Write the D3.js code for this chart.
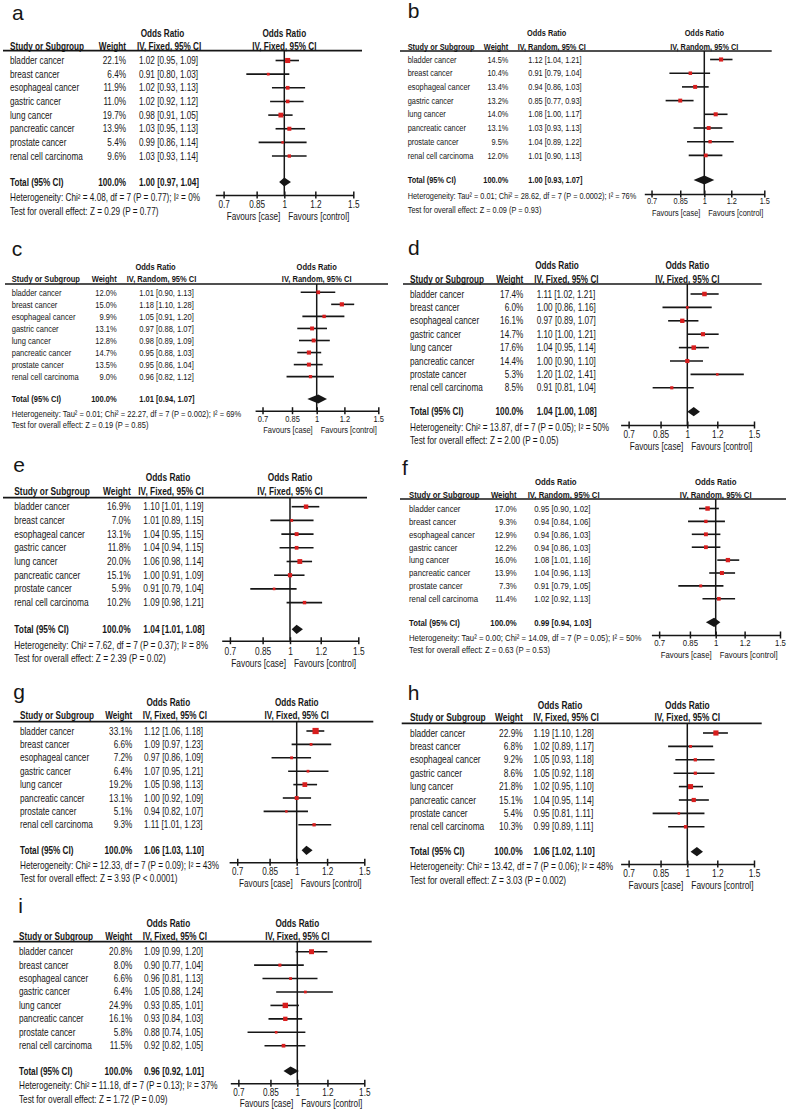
<!DOCTYPE html>
<html>
<head>
<meta charset="utf-8">
<script src="https://cdn.jsdelivr.net/npm/d3@7"></script>
<style>
  body { margin: 0; background: #fff; }
  svg { display: block; }
</style>
</head>
<body>
<script>
// no narrow font installed, so Liberation Sans is squeezed horizontally
const FONT = '"Liberation Sans", Arial, sans-serif';
const SQUEEZE = 0.82;

const subgroups = ['bladder cancer', 'breast cancer', 'esophageal cancer', 'gastric cancer',
  'lung cancer', 'pancreatic cancer', 'prostate cancer', 'renal cell carcinoma'];
const tickValues = [0.7, 0.85, 1, 1.2, 1.5];
const tickLabels = ['0.7', '0.85', '1', '1.2', '1.5'];

// rows: [weight %, odds ratio, lower, upper]
const dataA = [[22.1, 1.02, 0.95, 1.09], [6.4, 0.91, 0.80, 1.03], [11.9, 1.02, 0.93, 1.13], [11.0, 1.02, 0.92, 1.12],
  [19.7, 0.98, 0.91, 1.05], [13.9, 1.03, 0.95, 1.13], [5.4, 0.99, 0.86, 1.14], [9.6, 1.03, 0.93, 1.14]];
const dataB = [[14.5, 1.12, 1.04, 1.21], [10.4, 0.91, 0.79, 1.04], [13.4, 0.94, 0.86, 1.03], [13.2, 0.85, 0.77, 0.93],
  [14.0, 1.08, 1.00, 1.17], [13.1, 1.03, 0.93, 1.13], [9.5, 1.04, 0.89, 1.22], [12.0, 1.01, 0.90, 1.13]];
const dataC = [[12.0, 1.01, 0.90, 1.13], [15.0, 1.18, 1.10, 1.28], [9.9, 1.05, 0.91, 1.20], [13.1, 0.97, 0.88, 1.07],
  [12.8, 0.98, 0.89, 1.09], [14.7, 0.95, 0.88, 1.03], [13.5, 0.95, 0.86, 1.04], [9.0, 0.96, 0.82, 1.12]];
const dataD = [[17.4, 1.11, 1.02, 1.21], [6.0, 1.00, 0.86, 1.16], [16.1, 0.97, 0.89, 1.07], [14.7, 1.10, 1.00, 1.21],
  [17.6, 1.04, 0.95, 1.14], [14.4, 1.00, 0.90, 1.10], [5.3, 1.20, 1.02, 1.41], [8.5, 0.91, 0.81, 1.04]];
const dataE = [[16.9, 1.10, 1.01, 1.19], [7.0, 1.01, 0.89, 1.15], [13.1, 1.04, 0.95, 1.15], [11.8, 1.04, 0.94, 1.15],
  [20.0, 1.06, 0.98, 1.14], [15.1, 1.00, 0.91, 1.09], [5.9, 0.91, 0.79, 1.04], [10.2, 1.09, 0.98, 1.21]];
const dataF = [[17.0, 0.95, 0.90, 1.02], [9.3, 0.94, 0.84, 1.06], [12.9, 0.94, 0.86, 1.03], [12.2, 0.94, 0.86, 1.03],
  [16.0, 1.08, 1.01, 1.16], [13.9, 1.04, 0.96, 1.13], [7.3, 0.91, 0.79, 1.05], [11.4, 1.02, 0.92, 1.13]];
const dataG = [[33.1, 1.12, 1.06, 1.18], [6.6, 1.09, 0.97, 1.23], [7.2, 0.97, 0.86, 1.09], [6.4, 1.07, 0.95, 1.21],
  [19.2, 1.05, 0.98, 1.13], [13.1, 1.00, 0.92, 1.09], [5.1, 0.94, 0.82, 1.07], [9.3, 1.11, 1.01, 1.23]];
const dataH = [[22.9, 1.19, 1.10, 1.28], [6.8, 1.02, 0.89, 1.17], [9.2, 1.05, 0.93, 1.18], [8.6, 1.05, 0.92, 1.18],
  [21.8, 1.02, 0.95, 1.10], [15.1, 1.04, 0.95, 1.14], [5.4, 0.95, 0.81, 1.11], [10.3, 0.99, 0.89, 1.11]];
const dataI = [[20.8, 1.09, 0.99, 1.20], [8.0, 0.90, 0.77, 1.04], [6.6, 0.96, 0.81, 1.13], [6.4, 1.05, 0.88, 1.24],
  [24.9, 0.93, 0.85, 1.01], [16.1, 0.93, 0.84, 1.03], [5.8, 0.88, 0.74, 1.05], [11.5, 0.92, 0.82, 1.05]];

// pooled [OR, lower, upper] for panels a..i
const totals = [[1.00, 0.97, 1.04], [1.00, 0.93, 1.07], [1.01, 0.94, 1.07], [1.04, 1.00, 1.08], [1.04, 1.01, 1.08],
  [0.99, 0.94, 1.03], [1.06, 1.03, 1.10], [1.06, 1.02, 1.10], [0.96, 0.92, 1.01]];
const models = ['Fixed', 'Random', 'Random', 'Fixed', 'Fixed', 'Random', 'Fixed', 'Fixed', 'Fixed'];
const hetTexts = [
  'Heterogeneity: Chi² = 4.08, df = 7 (P = 0.77); I² = 0%',
  'Heterogeneity: Tau² = 0.01; Chi² = 28.62, df = 7 (P = 0.0002); I² = 76%',
  'Heterogeneity: Tau² = 0.01; Chi² = 22.27, df = 7 (P = 0.002); I² = 69%',
  'Heterogeneity: Chi² = 13.87, df = 7 (P = 0.05); I² = 50%',
  'Heterogeneity: Chi² = 7.62, df = 7 (P = 0.37); I² = 8%',
  'Heterogeneity: Tau² = 0.00; Chi² = 14.09, df = 7 (P = 0.05); I² = 50%',
  'Heterogeneity: Chi² = 12.33, df = 7 (P = 0.09); I² = 43%',
  'Heterogeneity: Chi² = 13.42, df = 7 (P = 0.06); I² = 48%',
  'Heterogeneity: Chi² = 11.18, df = 7 (P = 0.13); I² = 37%'
];
const testTexts = [
  'Test for overall effect: Z = 0.29 (P = 0.77)',
  'Test for overall effect: Z = 0.09 (P = 0.93)',
  'Test for overall effect: Z = 0.19 (P = 0.85)',
  'Test for overall effect: Z = 2.00 (P = 0.05)',
  'Test for overall effect: Z = 2.39 (P = 0.02)',
  'Test for overall effect: Z = 0.63 (P = 0.53)',
  'Test for overall effect: Z = 3.93 (P < 0.0001)',
  'Test for overall effect: Z = 3.03 (P = 0.002)',
  'Test for overall effect: Z = 1.72 (P = 0.09)'
];
const panelData = [dataA, dataB, dataC, dataD, dataE, dataF, dataG, dataH, dataI];
const panelLetters = ['a', 'b', 'c', 'd', 'e', 'f', 'g', 'h', 'i'];

const layouts = [
  {fs: 10,   lab: [12, 20],     orY: 33.3,  hdY: 46.7,  rule: [3, 362, 50.7],     row0: 60.5,  step: 13.65, totY: 182,   hetY: 197.7, testY: 211,    axY: 195,   tlY: 204.3, favY: 216.7, sx: 10,    wx: 126,   cx: 139,   ivx: 137,   orx: 162.5, x1: 284.3, x15: 353.3},
  {fs: 9.0,  lab: [407.7, 18],  orY: 32.7,  hdY: 47.3,  rule: [400, 771.7, 51],   row0: 59.5,  step: 13.7,  totY: 180,   hetY: 196,   testY: 210,    axY: 194,   tlY: 201,   favY: 213.3, sx: 407.7, wx: 508.3, cx: 528.3, ivx: 517.7, orx: 546.7, x1: 704.3, x15: 764.3},
  {fs: 9.2,  lab: [11.7, 256],  orY: 266.7, hdY: 279,   rule: [5, 388, 284],      row0: 292.3, step: 12.05, totY: 399,   hetY: 413.3, testY: 425,    axY: 410.7, tlY: 418.3, favY: 429.3, sx: 11.7,  wx: 116.7, cx: 139.3, ivx: 126.7, orx: 155.5, x1: 316.7, x15: 378.3},
  {fs: 10,   lab: [408, 255],   orY: 265,   hdY: 279,   rule: [403, 761.7, 284],  row0: 294,   step: 13.4,  totY: 411.7, hetY: 427.7, testY: 440,    axY: 425,   tlY: 434.3, favY: 446.7, sx: 410,   wx: 523.3, cx: 536.7, ivx: 534.3, orx: 557,   x1: 687.3, x15: 754},
  {fs: 10.2, lab: [13.3, 471.7], orY: 477.3, hdY: 491.7, rule: [3, 367, 497.7],   row0: 506.7, step: 13.7,  totY: 629.3, hetY: 645,   testY: 658.3,  axY: 640.7, tlY: 651,   favY: 663.3, sx: 14.3,  wx: 130.7, cx: 143.3, ivx: 138.3, orx: 168,   x1: 290,   x15: 358.3},
  {fs: 9.5,  lab: [402, 475],   orY: 481.7, hdY: 494.3, rule: [400, 786, 499],    row0: 508.5, step: 12.9,  totY: 622.3, hetY: 637.7, testY: 650,    axY: 635,   tlY: 642.3, favY: 655,   sx: 409,   wx: 516.7, cx: 534.3, ivx: 527.7, orx: 555.8, x1: 715.7, x15: 780},
  {fs: 10,   lab: [13.3, 699],  orY: 702.3, hdY: 715.7, rule: [13.3, 373.3, 721.7], row0: 731, step: 13.4,  totY: 850.3, hetY: 865,   testY: 878.3,  axY: 862.3, tlY: 871.7, favY: 883.3, sx: 20,    wx: 132.3, cx: 144,   ivx: 142.7, orx: 168.3, x1: 296.7, x15: 364.3},
  {fs: 10.2, lab: [407.7, 700], orY: 705,   hdY: 717.7, rule: [401.7, 761.7, 723.3], row0: 733, step: 13.4, totY: 851.7, hetY: 866.7, testY: 880,    axY: 864,   tlY: 873.3, favY: 885,   sx: 410,   wx: 522.7, cx: 533.5, ivx: 533.3, orx: 560,   x1: 687.3, x15: 754},
  {fs: 10,   lab: [18.3, 912.7], orY: 923.3, hdY: 936.7, rule: [13.3, 371.7, 941.7], row0: 951.7, step: 13.43, totY: 1071, hetY: 1085.7, testY: 1099.3, axY: 1083.3, tlY: 1092.3, favY: 1103.3, sx: 19, wx: 132.3, cx: 144, ivx: 142.7, orx: 168.3, x1: 297.3, x15: 364.3}
];

const INK = '#161616';
const RED = '#d81e1e';
const fmt = d3.format('.2f');
const ciText = (o, l, h) => `${fmt(o)} [${fmt(l)}, ${fmt(h)}]`;
const sizeScale = d3.scaleSqrt().domain([0, 35]).range([0, 6.4]);

// move x/y into a transform so the glyphs can be squeezed
function squeeze(sel) {
  sel.each(function () {
    const t = d3.select(this);
    const tx = +t.attr('x') || 0;
    const ty = +t.attr('y') || 0;
    t.attr('x', null).attr('y', null)
      .attr('transform', `translate(${tx},${ty}) scale(${SQUEEZE},1)`);
  });
}

const svg = d3.select('body').append('svg')
  .attr('width', 790)
  .attr('height', 1112);

panelData.forEach((rows, i) => {
  const L = layouts[i];
  const g = svg.append('g')
    .style('font-family', FONT)
    .style('font-size', L.fs + 'px')
    .attr('fill', INK);

  // scales
  const x = d3.scaleLog()
    .domain([1 / 1.5, 1.5])
    .range([L.x1 - (L.x15 - L.x1), L.x15]);
  const y = d3.scaleLinear()
    .domain([0, rows.length - 1])
    .range([L.row0, L.row0 + (rows.length - 1) * L.step]);

  // panel letter
  svg.append('text')
    .attr('x', L.lab[0])
    .attr('y', L.lab[1])
    .style('font-family', FONT)
    .style('font-size', '21px')
    .attr('fill', INK)
    .text(panelLetters[i]);

  // headers
  const model = `IV, ${models[i]}, 95% CI`;
  g.append('text').attr('x', L.orx).attr('y', L.orY).attr('dy', '0.35em')
    .attr('text-anchor', 'middle').style('font-weight', 'bold').text('Odds Ratio');
  g.append('text').attr('x', L.x1).attr('y', L.orY).attr('dy', '0.35em')
    .attr('text-anchor', 'middle').style('font-weight', 'bold').text('Odds Ratio');
  g.append('text').attr('x', L.sx).attr('y', L.hdY).attr('dy', '0.35em')
    .style('font-weight', 'bold').text('Study or Subgroup');
  g.append('text').attr('x', L.wx).attr('y', L.hdY).attr('dy', '0.35em')
    .attr('text-anchor', 'end').style('font-weight', 'bold').text('Weight');
  g.append('text').attr('x', L.ivx).attr('y', L.hdY).attr('dy', '0.35em')
    .style('font-weight', 'bold').text(model);
  g.append('text').attr('x', L.x1).attr('y', L.hdY).attr('dy', '0.35em')
    .attr('text-anchor', 'middle').style('font-weight', 'bold').text(model);

  g.append('line')
    .attr('x1', L.rule[0]).attr('x2', L.rule[1])
    .attr('y1', L.rule[2]).attr('y2', L.rule[2])
    .attr('stroke', INK).attr('stroke-width', 1.7);

  // line of no effect
  g.append('line')
    .attr('x1', x(1)).attr('x2', x(1))
    .attr('y1', L.rule[2]).attr('y2', L.axY)
    .attr('stroke', INK).attr('stroke-width', 1.5);

  // study rows
  const rowG = g.selectAll('g.row')
    .data(rows)
    .enter().append('g')
    .attr('class', 'row');

  rowG.append('text')
    .attr('x', L.sx).attr('y', (d, j) => y(j)).attr('dy', '0.35em')
    .text((d, j) => subgroups[j]);
  rowG.append('text')
    .attr('x', L.wx).attr('y', (d, j) => y(j)).attr('dy', '0.35em')
    .attr('text-anchor', 'end')
    .text(d => d[0].toFixed(1) + '%');
  rowG.append('text')
    .attr('x', L.cx).attr('y', (d, j) => y(j)).attr('dy', '0.35em')
    .text(d => ciText(d[1], d[2], d[3]));

  rowG.append('line')
    .attr('x1', d => x(d[2])).attr('x2', d => x(d[3]))
    .attr('y1', (d, j) => y(j)).attr('y2', (d, j) => y(j))
    .attr('stroke', INK).attr('stroke-width', 1.6);
  rowG.append('rect')
    .attr('x', d => x(d[1]) - sizeScale(d[0]) / 2)
    .attr('y', (d, j) => y(j) - sizeScale(d[0]) / 2)
    .attr('width', d => sizeScale(d[0]))
    .attr('height', d => sizeScale(d[0]))
    .attr('fill', RED);

  // total row
  const t = totals[i];
  g.append('text').attr('x', L.sx).attr('y', L.totY).attr('dy', '0.35em')
    .style('font-weight', 'bold').text('Total (95% CI)');
  g.append('text').attr('x', L.wx).attr('y', L.totY).attr('dy', '0.35em')
    .attr('text-anchor', 'end').style('font-weight', 'bold').text('100.0%');
  g.append('text').attr('x', L.cx).attr('y', L.totY).attr('dy', '0.35em')
    .style('font-weight', 'bold').text(ciText(t[0], t[1], t[2]));

  const dh = 4.6;
  g.append('path')
    .attr('d', `M${x(t[1])},${L.totY} L${x(t[0])},${L.totY - dh} L${x(t[2])},${L.totY} L${x(t[0])},${L.totY + dh} Z`)
    .attr('fill', INK);

  g.append('text').attr('x', L.sx).attr('y', L.hetY).attr('dy', '0.35em').text(hetTexts[i]);
  g.append('text').attr('x', L.sx).attr('y', L.testY).attr('dy', '0.35em').text(testTexts[i]);

  // axis
  const axis = d3.axisBottom(x)
    .tickValues(tickValues)
    .tickFormat((d, k) => tickLabels[k])
    .tickSizeInner(3.5)
    .tickSizeOuter(0)
    .tickPadding(2);

  const axG = g.append('g')
    .attr('transform', `translate(0, ${L.axY})`)
    .call(axis);
  axG.select('.domain').attr('stroke', INK).attr('stroke-width', 1.5);
  axG.selectAll('.tick line').attr('stroke', INK).attr('stroke-width', 1.5).attr('y1', -3.5);
  axG.selectAll('.tick text')
    .attr('x', 0).attr('y', L.tlY - L.axY).attr('dy', '0.35em')
    .style('font-family', FONT).style('font-size', L.fs + 'px')
    .attr('fill', INK);

  g.append('text').attr('x', x(1) - 4).attr('y', L.favY).attr('dy', '0.35em')
    .attr('text-anchor', 'end').text('Favours [case]');
  g.append('text').attr('x', x(1) + 4).attr('y', L.favY).attr('dy', '0.35em')
    .text('Favours [control]');

  squeeze(g.selectAll('text'));
});
</script>
</body>
</html>
